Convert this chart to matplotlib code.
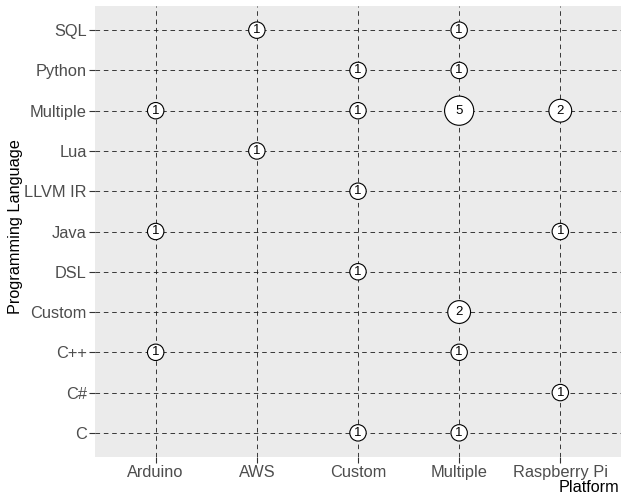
import matplotlib
matplotlib.use("Agg")
import matplotlib.pyplot as plt
import numpy as np

plt.rcParams['font.family'] = ['Liberation Sans', 'DejaVu Sans']

platforms = ["Arduino", "AWS", "Custom", "Multiple", "Raspberry Pi"]
languages = ["C", "C#", "C++", "Custom", "DSL", "Java", "LLVM IR", "Lua", "Multiple", "Python", "SQL"]

# (language, platform, count)
point_lang = ["SQL", "SQL", "Python", "Python", "Multiple", "Multiple", "Multiple", "Multiple",
              "Lua", "LLVM IR", "Java", "Java", "DSL", "Custom", "C++", "C++", "C#", "C", "C"]
point_plat = ["AWS", "Multiple", "Custom", "Multiple", "Arduino", "Custom", "Multiple", "Raspberry Pi",
              "AWS", "Custom", "Arduino", "Raspberry Pi", "Custom", "Multiple", "Arduino", "Multiple",
              "Raspberry Pi", "Custom", "Multiple"]
point_count = [1, 1, 1, 1, 1, 1, 5, 2, 1, 1, 1, 1, 1, 2, 1, 1, 1, 1, 1]

fig = plt.figure(figsize=(6.21, 5.0), dpi=100)
ax = fig.add_axes([95/621, 43/500, 526/621, 451/500])
ax.set_facecolor('#EBEBEB')

nx, ny = len(platforms), len(languages)
ax.set_xlim(-0.6, nx - 1 + 0.6)
ax.set_ylim(-0.6, ny - 1 + 0.6)

for i in range(nx):
    ax.axvline(i, color='#1a1a1a', lw=0.6, ls=(0, (5.5, 4.5)), zorder=1)
for j in range(ny):
    ax.axhline(j, color='#1a1a1a', lw=0.6, ls=(0, (5.5, 4.5)), zorder=1)

xs = [platforms.index(p) for p in point_plat]
ys = [languages.index(l) for l in point_lang]
counts = np.array(point_count, dtype=float)
cmin, cmax = counts.min(), counts.max()
dmin, dmax = 11.8, 21.0  # marker diameter in points
diam = dmin + (dmax - dmin) * np.sqrt((counts - cmin) / (cmax - cmin))
ax.scatter(xs, ys, s=diam**2, facecolor='white', edgecolor='black', linewidth=0.8, zorder=3)
for x, y, c in zip(xs, ys, point_count):
    ax.text(x, y, str(c), ha='center', va='center', fontsize=9.5, color='black', zorder=4)

ax.set_xticks(range(nx))
ax.set_xticklabels(platforms)
ax.set_yticks(range(ny))
ax.set_yticklabels(languages)
ax.tick_params(axis='both', colors='#333333', labelcolor='#4D4D4D', labelsize=11.8,
               length=4, width=0.8, pad=2)
for s in ax.spines.values():
    s.set_visible(False)

fig.text(619/621, 1 - 488/500, "Platform", ha='right', va='center', fontsize=11.7, color='black')
fig.text(16/621, 1 - 227/500, "Programming Language", ha='center', va='center',
         rotation=90, fontsize=11.7, color='black')

fig.savefig("out.png", dpi=100)
